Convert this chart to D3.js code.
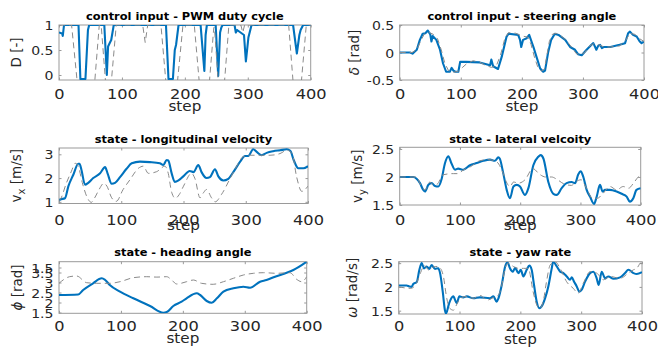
<!DOCTYPE html>
<html><head><meta charset="utf-8">
<script src="https://cdn.jsdelivr.net/npm/d3@7"></script>
<style>body{margin:0;background:#fff}svg{display:block}</style>
</head><body>
<svg id="c" width="658" height="347"></svg>
<script>
// ---------------- data ----------------
const stepTicks = [0, 100, 200, 300, 400];

const pwmActual = [[0,0.85],[5,0.83],[6,0.78],[8,1],[31,1],[34,-0.08],[42,-0.08],[46,0.9],[48,1],[72,1],[76,0],[78,0.57],[81,0.65],[83,0.7],[87,1],[170,1],[174,-0.08],[181,-0.08],[184,0.5],[186,0.6],[190,1],[225,1],[231,0.08],[233,0.8],[235,1],[249,1],[253,-0.02],[256,0.85],[258,0.95],[260,1],[279,1],[281,0.85],[283,0.9],[294,0.8],[297,0.27],[301,0.75],[306,1],[372,1],[378,0.43],[382,0.8],[384,0.9],[388,1],[400,1]];
const pwmRef = [[0,1],[20,1],[31,-0.4],[42,-0.4],[48,-0.4],[57,-0.1],[64,1],[67,1],[75,-0.3],[82,-0.3],[91,1],[133,1],[137,0.65],[141,1],[162,1],[171,-0.3],[187,-0.3],[197,1],[215,1],[224,-0.3],[238,-0.3],[246,0.95],[247,0.95],[254,-0.3],[262,-0.3],[270,1],[289,1],[292,0.85],[295,1],[365,1],[373,-0.3],[384,-0.3],[393,1],[400,1]];

const steerActual = [[0,0],[17,0],[21,-0.02],[24,0.01],[28,0.05],[33,0.23],[37.6,0.34],[42,0.35],[46,0.4],[50,0.33],[52,0.2],[54,0.3],[60,0.23],[66,0.05],[71,-0.2],[76,-0.35],[82,-0.35],[85,-0.28],[88,-0.33],[91,-0.35],[96,-0.35],[99,-0.17],[109,-0.17],[131,-0.18],[148,-0.23],[150,-0.13],[153,-0.25],[161,-0.3],[167,-0.08],[175,0.29],[178,0.34],[194,0.32],[197,0.23],[199,0.1],[202,0.23],[208,0.26],[212,0.32],[219,0.1],[224,-0.08],[230,-0.29],[235,-0.35],[238,-0.33],[243,0],[248,0.23],[254,0.34],[260,0.32],[271,0.23],[279,0.1],[287,0.05],[292,-0.03],[298,-0.05],[306,0.05],[314,0.14],[317,0.17],[320,0.1],[322,0.05],[325,0.12],[328,0.14],[331,0.08],[334,0.1],[345,0.1],[360,0.14],[369,0.17],[374,0.35],[377,0.38],[382,0.32],[388,0.29],[393,0.2],[396,0.17],[400,0.2]];
const steerRef = [[0,0],[20,0],[28,0.05],[34,0.2],[40,0.33],[47,0.37],[55,0.33],[62,0.25],[68,0.05],[74,-0.2],[80,-0.33],[88,-0.36],[96,-0.34],[103,-0.27],[110,-0.2],[120,-0.15],[130,-0.17],[140,-0.23],[150,-0.27],[158,-0.25],[165,-0.05],[172,0.25],[178,0.36],[190,0.35],[200,0.3],[210,0.28],[215,0.15],[221,-0.1],[226,-0.26],[232,-0.34],[237,-0.3],[241,-0.05],[245,0.2],[250,0.33],[256,0.35],[262,0.32],[270,0.25],[280,0.12],[289,-0.02],[296,-0.04],[303,0],[311,0.12],[318,0.16],[326,0.14],[335,0.1],[345,0.1],[360,0.12],[370,0.22],[377,0.35],[385,0.33],[393,0.25],[400,0.2]];

const vxActual = [[0,1.05],[2,1.1],[9.6,1.15],[15,1.65],[23,2.14],[31,2.6],[33,2.6],[36,2.35],[41.8,1.72],[47,1.8],[55,2.0],[66,2.2],[74,2.46],[78,2.2],[84.6,1.76],[90,1.8],[98,2.04],[108.5,2.39],[116.8,2.62],[130,2.69],[146,2.67],[162,2.62],[167.6,2.55],[173,2.76],[175.5,2.74],[181,2.2],[186,1.84],[192,1.9],[199.7,2.07],[210,2.3],[216,2.25],[223.8,2.55],[229,2.25],[237,2.0],[242.5,2.04],[250.6,2.37],[256,2.07],[264,1.9],[272,1.97],[280,2.25],[291,2.69],[298.8,2.93],[304,2.93],[312,3.21],[317.6,3.1],[325.6,2.96],[333.6,3.06],[344,3.13],[355,3.17],[366,3.21],[371.6,3.15],[377,2.76],[384.5,2.41],[392.6,2.41],[400,2.5]];
const vxRef = [[0,1.05],[2,1.1],[12,1.8],[20,2.29],[26,2.62],[30,2.55],[38,1.75],[45,1.2],[52,0.98],[58,1.2],[64,1.5],[72,1.78],[77,1.66],[84.6,1.17],[92,1.02],[103,1.52],[114,1.93],[127.5,2.41],[135.5,2.5],[143.5,2.2],[157,2.27],[170,2.5],[175.5,2.2],[181,1.4],[187,1.15],[193,1.3],[200,1.66],[213,2.2],[218.5,1.97],[226.5,1.17],[232,1.38],[237,1.52],[245,1.17],[251,1.0],[261,1.31],[274.7,1.97],[285,2.48],[296,2.9],[307,2.96],[323,2.96],[339,2.96],[355,3.03],[366,3.17],[374.5,3.03],[381.8,2.04],[390,1.44],[400,1.66]];

const vyActual = [[0,2.0],[22.6,2.0],[28,1.97],[33.7,1.89],[39,1.77],[42,1.74],[47.6,1.86],[53,1.89],[58.6,1.84],[64,1.83],[69.7,1.97],[75,2.24],[80.7,2.37],[86,2.24],[91.8,2.13],[97,2.15],[105.6,2.13],[116.6,2.21],[127.8,2.25],[139,2.29],[149.9,2.31],[158,2.29],[163.7,2.35],[166,2.33],[172,2.06],[177.6,1.77],[183,1.62],[188.8,1.83],[194.2,1.86],[199.7,1.83],[208,1.68],[213.6,1.8],[221.8,2.21],[230,2.36],[234,2.39],[238.5,2.33],[246.7,1.91],[255,1.7],[260.5,1.68],[268.8,1.8],[277,1.89],[285.4,1.91],[291,1.89],[296.5,2.05],[300.4,2.1],[304.8,2.0],[310.3,1.77],[315.8,1.65],[322.5,1.52],[327,1.65],[332.4,1.86],[336.8,1.74],[340.7,1.77],[349,1.77],[360,1.74],[368.4,1.7],[376.7,1.65],[382,1.56],[387.7,1.62],[393,1.77],[400,1.8]];
const vyRef = [[0,2.0],[28,2.0],[36,1.83],[42,1.77],[50,1.91],[56,1.86],[62,1.87],[72,2.04],[89,2.06],[97,2.06],[105,2.12],[117,2.18],[133,2.29],[147,2.31],[161,2.27],[172,2.06],[178,1.89],[183,1.83],[189,1.91],[197,1.89],[208,1.95],[221,2.15],[232,2.05],[242,2.0],[252,2.0],[262,1.95],[272,1.88],[285,1.85],[293,1.92],[301,1.95],[310,1.8],[320,1.62],[328,1.62],[337,1.7],[349,1.83],[360,1.77],[371,1.83],[380,1.8],[388,1.89],[396,2.0],[400,2.03]];

const headingActual = [[0,2.375],[31,2.4],[39,2.625],[55,2.96],[69,3.21],[74.5,3.125],[82,2.875],[98.5,2.54],[120,2.21],[147,1.825],[168.5,1.49],[174,1.52],[184.6,1.825],[198,2.04],[206,2.21],[222.4,2.46],[228,2.375],[238.6,2.075],[246.6,1.99],[255,2.21],[265.5,2.54],[281.6,2.71],[297.8,2.79],[308.6,2.74],[324.7,3.04],[335,3.125],[348.9,3.29],[367.7,3.49],[378.5,3.625],[400,4.04]];
const headingRef = [[0,2.96],[17,3.29],[28.5,3.325],[44.7,2.99],[61,2.96],[82,2.96],[98.5,3.04],[120,3.24],[141.7,3.29],[158,3.27],[174,3.29],[182,3.125],[190,2.925],[206,3.04],[217,3.125],[230,2.96],[249,2.91],[265.5,3.04],[281.6,3.21],[297.8,3.375],[314,3.46],[330,3.49],[351.6,3.46],[373,3.49],[383.7,3.16],[392,3.04],[400,3.29]];

const yawActual = [[0,2.03],[13,2.03],[17.4,2.01],[21,2.0],[24,2.06],[29.6,2.1],[34,2.36],[37.8,2.5],[41.6,2.39],[46,2.43],[50.4,2.38],[54,2.46],[59.7,2.38],[65,2.39],[68,2.29],[72.4,1.9],[76,1.51],[77.8,1.44],[83,1.66],[89.7,1.8],[95.4,1.66],[99.8,1.8],[106,1.78],[112,1.8],[122.7,1.76],[133.6,1.78],[150,1.76],[155.7,1.8],[161,1.69],[164,1.76],[169.4,2.04],[175,2.43],[178.7,2.52],[183,2.39],[187.5,2.32],[191.4,2.4],[196.8,2.29],[200.7,2.36],[205,2.22],[210.4,2.36],[214.8,2.45],[218.6,2.36],[222.5,2.04],[226.9,1.69],[231.3,1.55],[235,1.59],[240.6,1.76],[246,2.01],[251.6,2.39],[254,2.53],[259.9,2.43],[265.4,2.32],[270.8,2.29],[276.3,2.22],[281.7,2.15],[284.5,2.2],[288.3,2.11],[292.7,2.01],[297,1.9],[300.9,1.94],[306.4,2.11],[314.6,2.29],[320,2.32],[325.5,2.18],[328.8,2.04],[333.7,2.32],[339.3,2.18],[344.8,2.22],[353,2.17],[364,2.2],[372.2,2.29],[377.6,2.36],[386,2.29],[391.4,2.27],[400,2.31]];
const yawRef = [[0,2.0],[20,1.97],[30,2.1],[36,2.3],[42,2.45],[50,2.35],[57,2.42],[63,2.43],[68,2.4],[73.5,2.22],[79,1.76],[84,1.55],[90,1.51],[95,1.62],[101,1.76],[112,1.8],[122.7,1.76],[134,1.82],[145,1.72],[156,1.78],[164,1.83],[169,2.01],[175,2.39],[180,2.5],[188.5,2.43],[196.8,2.39],[205,2.39],[213,2.39],[221,1.9],[227,1.62],[232.4,1.55],[238,1.72],[243,2.11],[249,2.46],[257,2.53],[265.4,2.39],[276,2.11],[287,1.97],[295,1.87],[303.6,2.08],[314.6,2.32],[325.5,2.29],[336.5,2.15],[347.5,2.22],[364,2.18],[377.6,2.29],[386,2.36],[391.4,2.39],[398,2.5],[400,2.48]];

const pwmTicks = [0, 0.5, 1];
const pwmTickLabels = ["0", "0.5", "1"];
const steerTicks = [-0.5, 0, 0.5];
const steerTickLabels = ["-0.5", "0", "0.5"];
const vxTicks = [1, 2, 3];
const vxTickLabels = ["1", "2", "3"];
const vyTicks = [1.5, 2, 2.5];
const vyTickLabels = ["1.5", "2", "2.5"];
const headingTicks = [1.5, 2, 2.5, 3, 3.5, 3.75];
const headingTickLabels = ["1.5", "2", "2.5", "3", "3.5", "1.5"];
const yawTicks = [1.5, 2, 2.5];
const yawTickLabels = ["1.5", "2", "2.5"];

// ---------------- layout ----------------
const panels = [
  {title:"control input - PWM duty cycle", box:[59,25,310.7,80], ydom:[-0.1,1], yt:pwmTicks, ytl:pwmTickLabels,
   actual:pwmActual, ref:pwmRef, curve:d3.curveLinear, titleY:19.5, tickY:99, stepY:111, ylabX:21,
   ylab:[{t:"D [-]"}]},
  {title:"control input - steering angle", box:[399.7,25,644,80], ydom:[-0.5,0.5], yt:steerTicks, ytl:steerTickLabels,
   actual:steerActual, ref:steerRef, curve:d3.curveLinear, titleY:19.5, tickY:99.5, stepY:111, ylabX:359,
   ylab:[{t:"δ",i:1},{t:" [rad]"}]},
  {title:"state - longitudinal velocity", box:[59,148,308,203.5], ydom:[0.93,3.265], yt:vxTicks, ytl:vxTickLabels,
   actual:vxActual, ref:vxRef, curve:d3.curveMonotoneX, titleY:143.3, tickY:225, stepY:230, ylabX:21,
   ylab:[{t:"v"},{t:"x",sub:1},{t:" [m/s]"}]},
  {title:"state - lateral velcoity", box:[399.7,147.3,640.7,205], ydom:[1.5,2.53], yt:vyTicks, ytl:vyTickLabels,
   actual:vyActual, ref:vyRef, curve:d3.curveMonotoneX, titleY:142.8, tickY:225, stepY:230, ylabX:362,
   ylab:[{t:"v"},{t:"y",sub:1},{t:" [m/s]"}]},
  {title:"state - heading angle", box:[59,261.7,306.7,313.3], ydom:[1.46,4.04], yt:headingTicks, ytl:headingTickLabels,
   actual:headingActual, ref:headingRef, curve:d3.curveMonotoneX, titleY:256.3, tickY:331, stepY:343, ylabX:22,
   ylab:[{t:"ϕ",i:1},{t:" [rad]"}]},
  {title:"state - yaw rate", box:[398.7,261.7,642,314], ydom:[1.43,2.53], yt:yawTicks, ytl:yawTickLabels,
   actual:yawActual, ref:yawRef, curve:d3.curveMonotoneX, titleY:256, tickY:331.5, stepY:343.5, ylabX:357,
   ylab:[{t:"ω",i:1},{t:" [rad/s]"}]}
];

const FONT = "'DejaVu Sans', sans-serif";
const AX = "#262626", BOX = "#9a9a9a";
const svg = d3.select("#c");
svg.append("rect").attr("width",658).attr("height",347).attr("fill","#fff");
const defs = svg.append("defs");

panels.forEach((p, i) => {
  const [x0,y0,x1,y1] = p.box;
  const x = d3.scaleLinear().domain([0,400]).range([x0,x1]);
  const y = d3.scaleLinear().domain(p.ydom).range([y1,y0]);
  const g = svg.append("g");

  defs.append("clipPath").attr("id","clip"+i).append("rect")
    .attr("x",x0).attr("y",y0).attr("width",x1-x0).attr("height",y1-y0);

  // box
  g.append("rect").attr("x",x0).attr("y",y0).attr("width",x1-x0).attr("height",y1-y0)
    .attr("fill","none").attr("stroke",BOX).attr("stroke-width",1);

  const styleTicks = sel => { sel.select(".domain").remove(); sel.selectAll("line").attr("stroke",BOX); };

  // bottom axis
  const gb = g.append("g").attr("transform",`translate(0,${y1})`)
    .call(d3.axisBottom(x).tickValues(stepTicks).tickSizeInner(-2.5).tickSizeOuter(0));
  styleTicks(gb);
  gb.selectAll("text").attr("y", p.tickY - y1).attr("dy", null)
    .attr("font-family",FONT).attr("font-size",13.5).attr("fill",AX)
    .attr("transform","scale(1.2,1)");
  // top axis (ticks only)
  const gt = g.append("g").attr("transform",`translate(0,${y0})`)
    .call(d3.axisTop(x).tickValues(stepTicks).tickSizeInner(-2.5).tickSizeOuter(0).tickFormat(""));
  styleTicks(gt);
  // left axis
  const gl = g.append("g").attr("transform",`translate(${x0},0)`)
    .call(d3.axisLeft(y).tickValues(p.yt).tickSizeInner(-2.5).tickSizeOuter(0)
      .tickFormat((d,k) => p.ytl[k]));
  styleTicks(gl);
  gl.selectAll("text").attr("x", -5.5/1.08).attr("dy","0.36em")
    .attr("font-family",FONT).attr("font-size",13).attr("fill",AX)
    .attr("transform","scale(1.08,1)");
  // right axis (ticks only)
  const gr = g.append("g").attr("transform",`translate(${x1},0)`)
    .call(d3.axisRight(y).tickValues(p.yt).tickSizeInner(-2.5).tickSizeOuter(0).tickFormat(""));
  styleTicks(gr);

  // lines
  const line = d3.line().x(d => x(d[0])).y(d => y(d[1])).curve(p.curve);
  const lg = g.append("g").attr("clip-path",`url(#clip${i})`);
  lg.append("path").attr("d",line(p.actual)).attr("fill","none")
    .attr("stroke","#0072BD").attr("stroke-width",2.1).attr("stroke-linejoin","round");
  lg.append("path").attr("d",line(p.ref)).attr("fill","none")
    .attr("stroke","#8a8a8a").attr("stroke-width",1).attr("stroke-dasharray","6,4");

  // title
  const cx = (x0+x1)/2;
  g.append("text").attr("transform",`translate(${cx},${p.titleY}) scale(1.14,1)`)
    .attr("text-anchor","middle").attr("font-family",FONT).attr("font-weight","bold")
    .attr("font-size",10).attr("fill","#000").text(p.title);
  // x label
  g.append("text").attr("transform",`translate(${cx},${p.stepY}) scale(1.15,1)`)
    .attr("text-anchor","middle").attr("font-family",FONT)
    .attr("font-size",13.2).attr("fill",AX).text("step");
  // y label
  const yl = g.append("text").attr("transform",`translate(${p.ylabX},${(y0+y1)/2}) rotate(-90)`)
    .attr("text-anchor","middle").attr("font-family",FONT)
    .attr("font-size",13.5).attr("fill",AX);
  let shifted = false;
  p.ylab.forEach(s => {
    const ts = yl.append("tspan").text(s.t);
    if (s.i) ts.attr("font-style","italic");
    if (s.sub) { ts.attr("font-size",10).attr("dy",3.5); shifted = true; }
    else if (shifted) { ts.attr("dy",-3.5); shifted = false; }
  });
});
</script>
</body></html>
